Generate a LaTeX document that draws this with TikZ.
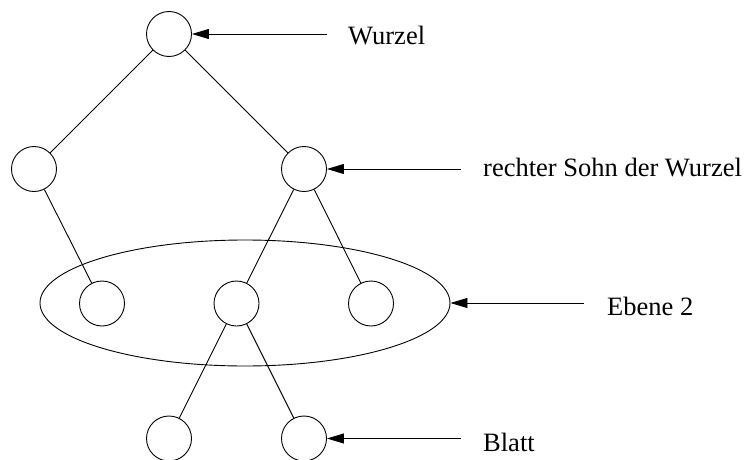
\documentclass[tikz,border=0pt]{standalone}
\usepackage{fontspec}
\setmainfont{Liberation Serif}
\usetikzlibrary{shapes.geometric,arrows.meta}
\begin{document}
\begin{tikzpicture}[x=1pt,y=-1pt,
  knot/.style={circle,draw,line width=0.9pt,minimum size=45pt,inner sep=0pt},
  edge/.style={line width=0.9pt},
  pointer/.style={line width=0.9pt,-{Triangle[length=17pt,width=10pt]}},
  lbl/.style={anchor=base west,inner sep=0pt,font=\fontsize{26.5}{30}\selectfont}]
\useasboundingbox (0,0) rectangle (749,460);
\node[knot] (r) at (169,34) {};
\node[knot] (a) at (34,169) {};
\node[knot] (b) at (304,169) {};
\node[knot] (c) at (102,303.5) {};
\node[knot] (d) at (236.5,303.5) {};
\node[knot] (e) at (371,303.5) {};
\node[knot] (f) at (169,438.5) {};
\node[knot] (g) at (304,438.5) {};
\node[ellipse,draw,line width=0.9pt,minimum width=410pt,minimum height=126pt,inner sep=0pt] (ell) at (245,303) {};
\draw[edge] (r) -- (a);
\draw[edge] (r) -- (b);
\draw[edge] (a) -- (c);
\draw[edge] (b) -- (d);
\draw[edge] (b) -- (e);
\draw[edge] (d) -- (f);
\draw[edge] (d) -- (g);
\coordinate (p1) at (327,34);
\coordinate (p2) at (461,169);
\coordinate (p3) at (584,303);
\coordinate (p4) at (461,438.5);
\draw[pointer] (p1) -- (r.east);
\draw[pointer] (p2) -- (b.east);
\draw[pointer] (p3) -- (ell.east);
\draw[pointer] (p4) -- (g.east);
\node[lbl] (t1) at (348,45) {Wurzel};
\node[lbl] (t2) at (483,176.7) {rechter Sohn der Wurzel};
\node[lbl] (t3) at (607,315) {Ebene 2};
\node[lbl] (t4) at (483,451) {Blatt};
\end{tikzpicture}
\end{document}
